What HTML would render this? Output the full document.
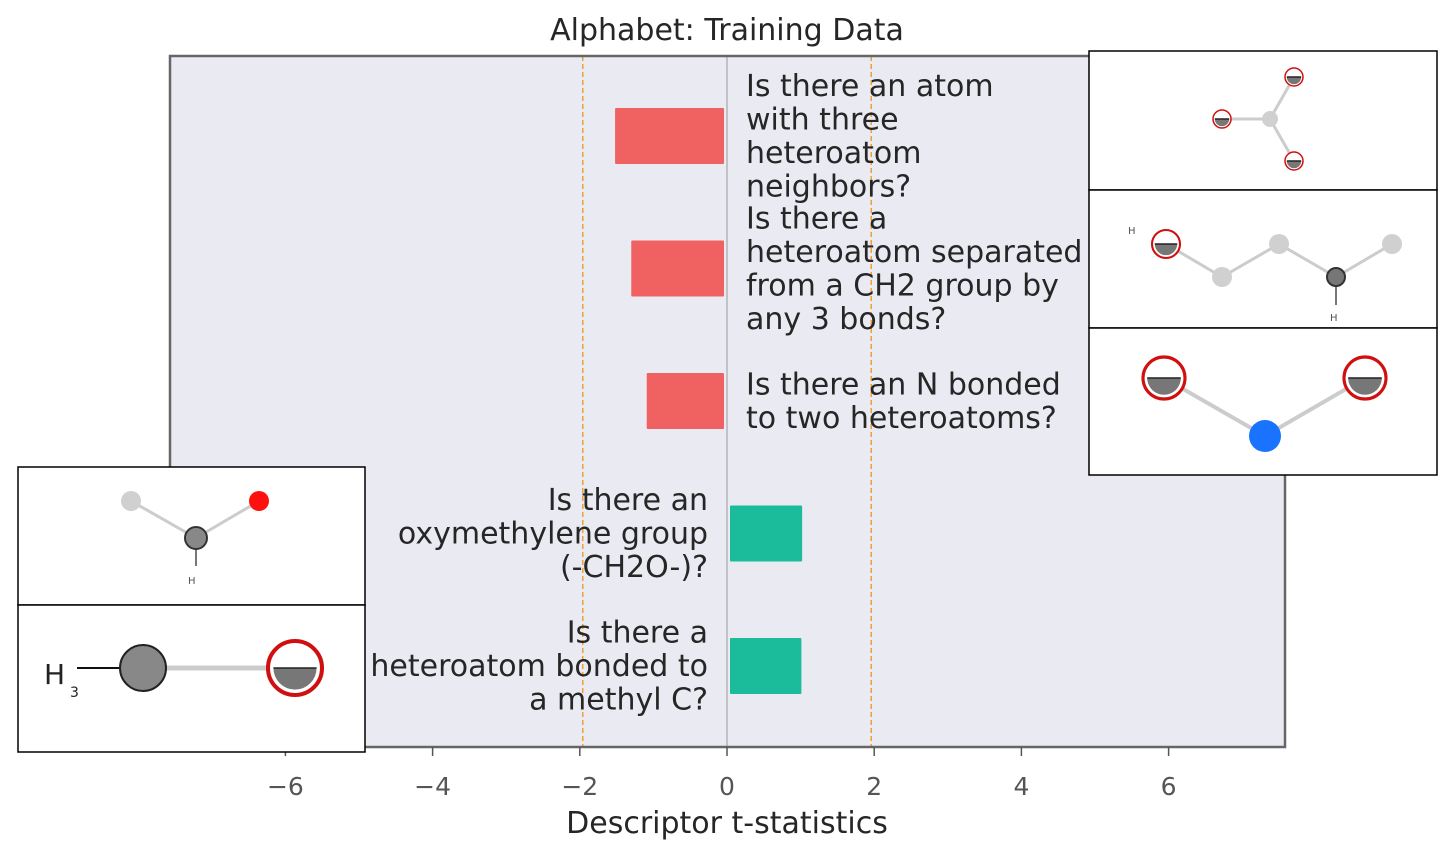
<!DOCTYPE html>
<html><head><meta charset="utf-8"><style>
html,body{margin:0;padding:0;background:#fff;}
svg{display:block;font-family:"DejaVu Sans","Liberation Sans",sans-serif;}
</style></head><body>
<svg id="chart" width="1454" height="857" viewBox="0 0 1454 857">
<rect x="170" y="56" width="1115" height="691" fill="#eaeaf2"/>
<g id="marks"></g>
<rect x="170" y="56" width="1115" height="691" fill="none" stroke="#666" stroke-width="2.5"/>
<text x="727" y="40" font-size="30" text-anchor="middle" fill="#262626">Alphabet: Training Data</text>
<text x="727" y="833" font-size="30" text-anchor="middle" fill="#262626">Descriptor t-statistics</text>
<g id="ticks"></g>
<g id="insets"></g>
</svg>
<script>
const categories=["Is there an atom|with three|heteroatom|neighbors?","Is there a|heteroatom separated|from a CH2 group by|any 3 bonds?","Is there an N bonded|to two heteroatoms?","Is there an|oxymethylene group|(-CH2O-)?","Is there a|heteroatom bonded to|a methyl C?"];
const values=[-1.48,-1.26,-1.05,0.98,0.97];
const tickValues=[-6,-4,-2,0,2,4,6];
const tickLabels=["\u22126","\u22124","\u22122","0","2","4","6"];
const threshold=[-1.96,1.96];
const NS="http://www.w3.org/2000/svg";
const X=v=>727+v*73.6;
const Y=i=>136+i*132.5;
function mk(tag,attrs,parent){const e=document.createElementNS(NS,tag);for(const k in attrs)e.setAttribute(k,attrs[k]);parent.appendChild(e);return e;}
const marks=document.getElementById('marks');
let zl=mk('line',{x1:X(0),x2:X(0),y1:56,y2:747,stroke:'#999','stroke-width':1},marks);


threshold.forEach(t=>{const l=mk('line',{x1:X(t),x2:X(t),y1:56,y2:747,stroke:'#f0a030','stroke-width':1.5,'stroke-dasharray':'5,3'},marks);

});
values.forEach((v,i)=>{
 const neg=v<0;const x0=X(0)+(neg?-3:3);const x1=X(v)+(neg?-3:3);
 const r=mk('rect',{x:Math.min(x0,x1),y:Y(i)-28,width:Math.abs(x1-x0),height:56,fill:neg?'#f06262':'#1abc9c',rx:1},marks);
 
 
 const lines=categories[i].split('|');
 const n=lines.length;const lh=33.5;
 const t=mk('text',{'font-size':30,fill:'#262626','text-anchor':neg?'start':'end'},marks);
 
 
 lines.forEach((s,j)=>{const ts=mk('tspan',{x:neg?746:708,y:Y(i)-(n-1)*lh/2+j*lh+10},t);ts.textContent=s;});
});
const ticks=document.getElementById('ticks');
tickValues.forEach((v,i)=>{
 const l=mk('line',{x1:X(v),x2:X(v),y1:747,y2:756,stroke:'#555','stroke-width':1.5},ticks);
 
 
 const t=mk('text',{x:X(v),y:795,'font-size':25,fill:'#555','text-anchor':'middle'},ticks);
 
 
 t.textContent=tickLabels[i];
});
const ins=document.getElementById('insets');
function box(x,y,w,h,name){const g=mk('g',{},ins);mk('rect',{x:x,y:y,width:w,height:h,fill:'#fff',stroke:'#000','stroke-width':1.5},g);return g;}
function bond(g,a,b,c,w){mk('line',{x1:a[0],y1:a[1],x2:b[0],y2:b[1],stroke:c||'#ccc','stroke-width':w||3},g);}
function hetero(g,cx,cy,r){mk('circle',{cx:cx,cy:cy,r:r,fill:'#fff',stroke:'#d01010','stroke-width':Math.max(1.5,r*0.15)},g);
 mk('path',{d:`M${cx-r*0.8} ${cy} A${r*0.8} ${r*0.8} 0 0 0 ${cx+r*0.8} ${cy} Z`,fill:'#777'},g);
 mk('line',{x1:cx-r*0.8,y1:cy,x2:cx+r*0.8,y2:cy,stroke:'#222','stroke-width':1.5},g);}
function atom(g,cx,cy,r,f,s){mk('circle',{cx:cx,cy:cy,r:r,fill:f,stroke:s||'none','stroke-width':2},g);}
let g=box(1089,51,348,139,'molecule-inset-1');
bond(g,[1270,119],[1222,119]);bond(g,[1270,119],[1294,77]);bond(g,[1270,119],[1294,161]);
atom(g,1270,119,8,'#d0d0d0');hetero(g,1222,119,9);hetero(g,1294,77,9);hetero(g,1294,161,9);
g=box(1089,190,348,138,'molecule-inset-2');
bond(g,[1166,244],[1222,277]);bond(g,[1222,277],[1279,244]);bond(g,[1279,244],[1336,277]);bond(g,[1336,277],[1392,244]);bond(g,[1336,277],[1336,305],'#777',2);
atom(g,1222,277,10,'#d0d0d0');atom(g,1279,244,10,'#d0d0d0');atom(g,1392,244,10,'#d0d0d0');atom(g,1336,277,9,'#777','#333');hetero(g,1166,244,14);
mk('text',{x:1128,y:234,'font-size':10,fill:'#555'},g).textContent='H';
mk('text',{x:1330,y:321,'font-size':10,fill:'#555'},g).textContent='H';
g=box(1089,328,348,147,'molecule-inset-3');
bond(g,[1164,378],[1265,436],'#ccc',4);bond(g,[1365,378],[1265,436],'#ccc',4);
atom(g,1265,436,16,'#1a73ff');hetero(g,1164,378,21);hetero(g,1365,378,21);
g=box(18,467,347,138,'molecule-inset-4');
bond(g,[131,501],[196,538]);bond(g,[196,538],[259,501]);bond(g,[196,538],[196,566],'#777',2);
atom(g,131,501,10,'#d0d0d0');atom(g,259,501,10,'#ff1010');atom(g,196,538,11,'#888','#333');
mk('text',{x:188,y:584,'font-size':10,fill:'#555'},g).textContent='H';
g=box(18,605,347,147,'molecule-inset-5');
bond(g,[77,668],[143,668],'#111',2);bond(g,[143,668],[295,668],'#ccc',5);
atom(g,143,668,23,'#888','#222');hetero(g,295,668,27);
mk('text',{x:44,y:684,'font-size':28,fill:'#222'},g).textContent='H';
mk('text',{x:70,y:697,'font-size':14,fill:'#222'},g).textContent='3';
</script>
</body></html>
